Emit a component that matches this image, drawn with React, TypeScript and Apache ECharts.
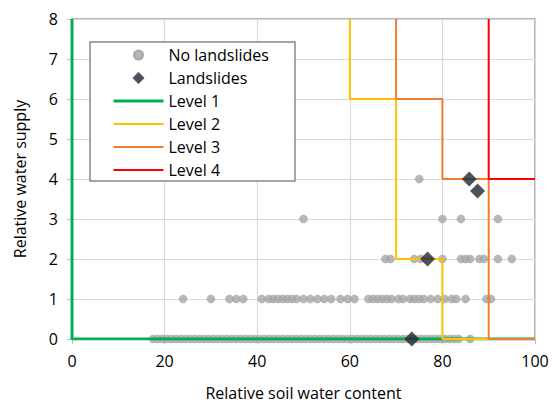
import { useEffect, useRef } from "react";
import * as echarts from "echarts";

// Relative soil water content of "no landslides" points, per relative water supply level
const noSlideRow0 = [17.5, 18.5, 19.5, 20.5, 21.5, 22.5, 23.5, 24.5, 25.5, 26.5, 27.5, 28.5, 29.5, 30.5, 31.5, 32.5, 33.5, 34.5, 35.5, 36.5, 37.5, 38.5, 39.5, 40.5, 41.5, 42.5, 43.5, 44.5, 45.5, 46.5, 47.5, 48.5, 49.5, 50.5, 51.5, 52.5, 53.5, 54.5, 55.5, 56.5, 57.5, 58.5, 59.5, 60.5, 61.5, 62.5, 63.5, 64.5, 65.5, 66.5, 67.5, 68.5, 69.5, 70.5, 71.5, 72.5, 73.5, 74.5, 75.5, 76.5, 77.5, 78.5, 79.5, 80.5, 81.5, 82.5, 83.5, 86];
const noSlideRow1 = [24, 30, 34, 35.5, 37, 41, 42.5, 43.5, 44.5, 45.5, 46.5, 47.5, 48.5, 50, 51.5, 53, 54.5, 56, 58, 59.5, 61, 64, 65, 66, 67, 68, 69, 70.5, 71.5, 73, 74, 75, 76, 77.5, 79, 80.5, 82, 83, 85, 89.5, 90.5];
const noSlideRow2 = [67.7, 68.8, 73.9, 75.3, 80, 84, 85, 86, 88, 89, 92, 95];
const noSlideRow3 = [50, 80, 84, 92];
const noSlideRow4 = [75];

const landslidesX = [73.4, 76.8, 85.8, 87.6];
const landslidesY = [0, 2, 4, 3.7];

// Threshold step lines
const level1: [number, number][] = [[0, 8], [0, 0], [100, 0]];
const level2: [number, number][] = [[60, 8], [60, 6], [70, 6], [70, 2], [80, 2], [80, 0], [100, 0]];
const level3: [number, number][] = [[70, 8], [70, 6], [80, 6], [80, 4], [90, 4], [90, 0], [100, 0]];
const level4: [number, number][] = [[90, 8], [90, 4], [100, 4]];

const FONT = "Open Sans";

export default function App() {
  const ref = useRef<HTMLDivElement>(null);
  useEffect(() => {
    if (!ref.current) return;
    const chart = echarts.init(ref.current, null, { renderer: "svg" });
    const noSlides: [number, number][] = [
      ...noSlideRow0.map((x) => [x, 0] as [number, number]),
      ...noSlideRow1.map((x) => [x, 1] as [number, number]),
      ...noSlideRow2.map((x) => [x, 2] as [number, number]),
      ...noSlideRow3.map((x) => [x, 3] as [number, number]),
      ...noSlideRow4.map((x) => [x, 4] as [number, number]),
    ];
    const slides = landslidesX.map((x, i) => [x, landslidesY[i]]);
    const lineSeries = (name: string, data: [number, number][], color: string, width: number, z: number) => ({
      name,
      type: "line",
      data,
      symbol: "none",
      lineStyle: { color, width },
      itemStyle: { color },
      z,
    });
    const lineLegend = (name: string, width: number) => ({
      name,
      itemStyle: { opacity: 0 },
      lineStyle: { width },
    });
    chart.setOption({
      animation: false,
      textStyle: { fontFamily: FONT },
      grid: {
        left: 72,
        right: 18,
        top: 19,
        bottom: 65,
        show: true,
        outerBoundsMode: "none",
        containLabel: false,
        borderColor: "#9a9a9a",
        borderWidth: 1.5,
      },
      legend: {
        data: [
          { name: "No landslides", icon: "path://M0,0M14,14M2.5,7a4.5,4.5 0 1,0 9,0a4.5,4.5 0 1,0 -9,0Z" },
          { name: "Landslides", icon: "path://M0,0M14,14M7,1L13,7L7,13L1,7Z" },
          lineLegend("Level 1", 3),
          lineLegend("Level 2", 2),
          lineLegend("Level 3", 2),
          lineLegend("Level 4", 2),
        ],
        orient: "vertical",
        left: 90,
        top: 42,
        itemWidth: 50,
        itemHeight: 14,
        itemGap: 7,
        symbolKeepAspect: true,
        padding: [5, 26, 3, 22],
        borderColor: "#888",
        borderWidth: 1.5,
        backgroundColor: "#fff",
        textStyle: { fontSize: 16, color: "#000", fontFamily: FONT, lineHeight: 16 },
      },
      xAxis: {
        type: "value",
        min: 0,
        max: 100,
        interval: 20,
        name: "Relative soil water content",
        nameLocation: "middle",
        nameGap: 46,
        nameTextStyle: { fontSize: 16, color: "#000", fontFamily: FONT },
        axisLine: { show: true, lineStyle: { color: "#bfbfbf" } },
        axisTick: { show: true, length: 5, lineStyle: { color: "#bfbfbf" } },
        axisLabel: { fontSize: 16, color: "#000", margin: 14, fontFamily: FONT },
        splitLine: { lineStyle: { color: "#d9d9d9", width: 1.2 } },
      },
      yAxis: {
        type: "value",
        min: 0,
        max: 8,
        interval: 1,
        name: "Relative water supply",
        nameLocation: "middle",
        nameGap: 44,
        nameTextStyle: { fontSize: 16, color: "#000", fontFamily: FONT },
        axisLine: { show: true, lineStyle: { color: "#bfbfbf" } },
        axisTick: { show: true, length: 5, lineStyle: { color: "#bfbfbf" } },
        axisLabel: { fontSize: 16, color: "#000", margin: 14, fontFamily: FONT },
        splitLine: { lineStyle: { color: "#d9d9d9", width: 1.2 } },
      },
      series: [
        {
          name: "No landslides",
          type: "scatter",
          data: noSlides,
          symbol: "circle",
          symbolSize: 8,
          itemStyle: { color: "#a6a6a6", borderColor: "#9a9a9a", borderWidth: 0.5 },
          z: 2,
        },
        {
          name: "Landslides",
          type: "scatter",
          data: slides,
          symbol: "diamond",
          symbolSize: 15,
          itemStyle: { color: "#1f2733" },
          z: 10,
        },
        lineSeries("Level 1", level1, "#00b050", 3, 3),
        lineSeries("Level 2", level2, "#ffc000", 2, 4),
        lineSeries("Level 3", level3, "#ed7d31", 2, 5),
        lineSeries("Level 4", level4, "#ff0000", 2, 6),
      ],
    });
    return () => chart.dispose();
  }, []);
  return <div ref={ref} style={{ width: 553, height: 404, position: "absolute", left: 0, top: 0 }} />;
}
